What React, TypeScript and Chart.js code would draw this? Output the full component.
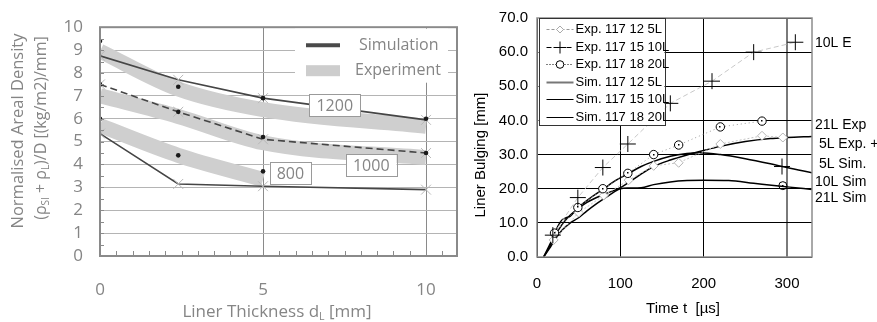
import React, { useEffect, useRef } from "react";
import { Chart, registerables } from "chart.js";
Chart.register(...registerables);

// ---------- Left chart data ----------
const THICKNESS = [0, 2.4, 5, 10];
const THICKNESS_800 = [0, 2.4, 5];
const SIM_1200 = [8.75, 7.7, 6.9, 5.95];
const SIM_1000 = [7.5, 6.3, 5.1, 4.5];
const SIM_800 = [5.35, 3.15, 3.05, 2.9];
const EXP_1200 = [8.95, 7.3, 6.4, 5.67];
const EXP_1000 = [7.0, 6.1, 4.95, 4.3];
const EXP_800 = [5.7, 4.4, 3.35];
const PTS_1200 = [9.4, 7.4, 6.9, 6.0];
const PTS_1000 = [7.5, 6.3, 5.2, 4.5];
const PTS_800 = [6.0, 4.4, 3.7];
const LEFT_X_TICKS = [0, 5, 10];
const LEFT_LABELS = ["1200", "1000", "800"];
const LEFT_LABEL_ANCHORS = [
  [7.2, 6.6],
  [8.32, 3.96],
  [5.84, 3.63],
];

// ---------- Right chart data ----------
const EXP5_T = [20, 50, 80, 110, 140, 170, 220, 270, 295];
const EXP5_V = [5, 13, 18, 22.5, 26.7, 27.6, 33.1, 35.5, 35];
const EXP10_T = [19, 49, 79, 109, 160, 210, 260, 310];
const EXP10_V = [6.4, 17.4, 26.2, 33.1, 45, 51.5, 60, 62.9];
const EXP20_T = [21, 49, 79, 109, 140, 170, 220, 270];
const EXP20_V = [7, 14.5, 20, 24.5, 30, 32.8, 38.1, 39.8];
const SIM5_T = [8, 15, 20, 30, 40, 50, 60, 80, 100, 120, 140, 160, 180, 200, 220, 250, 280, 300, 330];
const SIM5_V = [0, 3, 5.5, 9.5, 12.3, 14.3, 16, 18.3, 20.3, 23.5, 26.5, 28.4, 29.9, 31.2, 32.4, 33.8, 34.7, 35, 35.3];
const SIM10_T = [8, 15, 20, 25, 30, 35, 40, 50, 65, 80, 95, 110, 125, 140, 160, 180, 196, 220, 250, 280, 300, 330];
const SIM10_V = [0, 3.5, 6, 9, 10.8, 11.5, 12, 14.6, 17.5, 20, 22.5, 24.5, 26.5, 28, 29.5, 30.3, 30.5, 30, 28.8, 27.3, 26.2, 24.7];
const SIM20_T = [8, 15, 20, 30, 40, 50, 60, 72, 86, 100, 110, 125, 140, 160, 180, 200, 230, 260, 290, 310, 330];
const SIM20_V = [0, 2.5, 4.5, 7.8, 10, 11.5, 13.5, 15.7, 18, 20, 20.2, 20.3, 21.2, 22, 22.4, 22.5, 22.4, 21.6, 20.8, 20.3, 19.8];
const END_PLUS = [[294, 26.5]];
const END_CIRCLE = [[295, 20.9]];
const RIGHT_X_TICKS = [0, 100, 200, 300];
const RIGHT_NOTES = ["10L E", "21L Exp", " 5L Exp. +", " 5L Sim.", "10L Sim", "21L Sim"];
const RIGHT_NOTE_Y = [62.5, 38.7, 33.1, 27.2, 21.9, 17.2];

const LEFT_FONT = '"Open Sans", "DejaVu Sans", sans-serif';
const RIGHT_FONT = '"Liberation Sans", Arial, sans-serif';
const GRAYTXT = "#858585";

const mk = (xs: number[], ys: number[]) => xs.map((x, i) => ({ x, y: ys[i] }));

function drawRich(ctx: CanvasRenderingContext2D, parts: [string, boolean][], cx: number, cy: number, size: number, family: string) {
  const sub = size * 0.62;
  let total = 0;
  const widths = parts.map(([t, s]) => {
    ctx.font = `${s ? sub : size}px ${family}`;
    const w = ctx.measureText(t).width;
    total += w;
    return w;
  });
  let x = cx - total / 2;
  ctx.textAlign = "left";
  ctx.textBaseline = "middle";
  parts.forEach(([t, s], i) => {
    ctx.font = `${s ? sub : size}px ${family}`;
    ctx.fillText(t, x, cy + (s ? size * 0.3 : 0));
    x += widths[i];
  });
}

const leftDeco = {
  id: "leftDeco",
  afterDraw(chart: any) {
    const ctx: CanvasRenderingContext2D = chart.ctx;
    const xs = chart.scales.x;
    const ys = chart.scales.y;
    const a = chart.chartArea;
    ctx.save();
    // minor ticks
    ctx.strokeStyle = "#8a8a8a";
    ctx.lineWidth = 1;
    ctx.beginPath();
    for (let v = 0.5; v < 11; v += 0.5) {
      const px = Math.round(xs.getPixelForValue(v)) + 0.5;
      ctx.moveTo(px, a.bottom);
      ctx.lineTo(px, a.bottom - 5);
    }
    for (let v = 0.5; v < 10; v += 0.5) {
      const py = Math.round(ys.getPixelForValue(v)) + 0.5;
      ctx.moveTo(a.left, py);
      ctx.lineTo(a.left + 4, py);
    }
    ctx.stroke();
    // frame
    ctx.lineWidth = 2;
    ctx.strokeStyle = "#8a8a8a";
    ctx.strokeRect(a.left, a.top, a.right - a.left, a.bottom - a.top);

    // legend
    const lx = a.right - 162;
    ctx.fillStyle = "#fff";
    ctx.fillRect(lx, a.top + 1.5, 153, 54);
    ctx.strokeStyle = "#4a4a4a";
    ctx.lineWidth = 4;
    ctx.beginPath();
    ctx.moveTo(lx + 11, a.top + 18);
    ctx.lineTo(lx + 45, a.top + 18);
    ctx.stroke();
    ctx.fillStyle = "#cdcdcd";
    ctx.fillRect(lx + 11, a.top + 38, 34, 11);
    ctx.fillStyle = GRAYTXT;
    ctx.font = `16px ${LEFT_FONT}`;
    ctx.textAlign = "left";
    ctx.textBaseline = "middle";
    ctx.fillText("Simulation", lx + 64, a.top + 18);
    ctx.fillText("Experiment", lx + 60, a.top + 43);

    // value labels
    LEFT_LABELS.forEach((t, i) => {
      const cx = xs.getPixelForValue(LEFT_LABEL_ANCHORS[i][0]);
      const cy = ys.getPixelForValue(LEFT_LABEL_ANCHORS[i][1]);
      ctx.font = `16px ${LEFT_FONT}`;
      const w = ctx.measureText(t).width + 14;
      ctx.fillStyle = "#fff";
      ctx.fillRect(cx - w / 2, cy - 11, w, 22);
      ctx.strokeStyle = "#9a9a9a";
      ctx.lineWidth = 1;
      ctx.strokeRect(Math.round(cx - w / 2) + 0.5, Math.round(cy - 11) + 0.5, Math.round(w), 22);
      ctx.fillStyle = GRAYTXT;
      ctx.textAlign = "center";
      ctx.textBaseline = "middle";
      ctx.fillText(t, cx, cy + 1);
    });

    // axis titles
    ctx.fillStyle = GRAYTXT;
    drawRich(ctx, [["Liner Thickness d", false], ["L", true], [" [mm]", false]], 277, 312, 17, LEFT_FONT);
    ctx.translate(18, 131);
    ctx.rotate(-Math.PI / 2);
    drawRich(ctx, [["Normalised Areal Density", false]], 0, 0, 16.5, LEFT_FONT);
    drawRich(
      ctx,
      [["(ρ", false], ["SI", true], [" + ρ", false], ["L", true], [")/D [(kg/m2)/mm]", false]],
      3,
      23,
      16,
      LEFT_FONT
    );
    ctx.restore();
  },
};

const rightDeco = {
  id: "rightDeco",
  afterDatasetsDraw(chart: any) {
    // small centre dot inside the open circles of the 20L experiment
    const ctx: CanvasRenderingContext2D = chart.ctx;
    ctx.save();
    ctx.fillStyle = "#000";
    [3, 1].forEach((di) => {
      const meta = chart.getDatasetMeta(di);
      meta.data.forEach((p: any) => {
        ctx.fillRect(Math.round(p.x) - 1, Math.round(p.y) - 1, 1.5, 1.5);
      });
    });
    ctx.restore();
  },
  afterDraw(chart: any) {
    const ctx: CanvasRenderingContext2D = chart.ctx;
    const ys = chart.scales.y;
    const a = chart.chartArea;
    ctx.save();
    ctx.strokeStyle = "#8c8c8c";
    ctx.lineWidth = 1.5;
    ctx.strokeRect(a.left, a.top, a.right - a.left, a.bottom - a.top);

    // legend
    const lx = a.left + 1.5;
    const ly = a.top;
    const lw = 126;
    const lh = 107;
    ctx.fillStyle = "#fff";
    ctx.fillRect(lx, ly, lw, lh);
    ctx.strokeStyle = "#333";
    ctx.lineWidth = 1;
    ctx.strokeRect(Math.round(lx) + 0.5, Math.round(ly) + 0.5, lw, lh);
    const ds = chart.data.datasets;
    const order = [4, 2, 3, 5, 6, 7];
    order.forEach((di, i) => {
      const d = ds[di];
      const y = Math.round(ly + 11 + i * 17.6) + 0.5;
      const x0 = lx + 8;
      const x1 = lx + 35;
      ctx.strokeStyle = di === 5 ? "#777" : di === 4 ? "#999" : "#000";
      ctx.lineWidth = di === 5 ? 2 : 1;
      ctx.setLineDash(di === 4 ? [3, 2] : di === 2 ? [5, 2, 1, 2] : di === 3 ? [1, 2] : []);
      ctx.beginPath();
      ctx.moveTo(x0, y);
      ctx.lineTo(x1, y);
      ctx.stroke();
      ctx.setLineDash([]);
      const mx = (x0 + x1) / 2;
      if (di === 4) {
        ctx.fillStyle = "#fff";
        ctx.strokeStyle = "#aaa";
        ctx.beginPath();
        ctx.moveTo(mx, y - 3.5);
        ctx.lineTo(mx + 3.5, y);
        ctx.lineTo(mx, y + 3.5);
        ctx.lineTo(mx - 3.5, y);
        ctx.closePath();
        ctx.fill();
        ctx.stroke();
      } else if (di === 2) {
        ctx.strokeStyle = "#000";
        ctx.beginPath();
        ctx.moveTo(mx - 6, y);
        ctx.lineTo(mx + 6, y);
        ctx.moveTo(mx, y - 6);
        ctx.lineTo(mx, y + 6);
        ctx.stroke();
      } else if (di === 3) {
        ctx.fillStyle = "#fff";
        ctx.strokeStyle = "#000";
        ctx.beginPath();
        ctx.arc(mx, y, 3.8, 0, Math.PI * 2);
        ctx.fill();
        ctx.stroke();
      }
      ctx.fillStyle = "#000";
      ctx.font = `13px ${RIGHT_FONT}`;
      ctx.textAlign = "left";
      ctx.textBaseline = "middle";
      ctx.fillText(d.label, lx + 37, y);
    });

    // notes on the right
    ctx.font = `14px ${RIGHT_FONT}`;
    ctx.fillStyle = "#000";
    ctx.textAlign = "left";
    ctx.textBaseline = "middle";
    RIGHT_NOTES.forEach((t, i) => {
      ctx.fillText(t, a.right + 3, ys.getPixelForValue(RIGHT_NOTE_Y[i]));
    });

    // titles
    ctx.font = `15px ${RIGHT_FONT}`;
    ctx.textAlign = "center";
    ctx.fillText("Time t  [µs]", 218, 309);
    ctx.translate(16, 155);
    ctx.rotate(-Math.PI / 2);
    ctx.fillText("Liner Bulging [mm]", 0, 0);
    ctx.restore();
  },
};

export default function App() {
  const leftRef = useRef<HTMLCanvasElement>(null);
  const rightRef = useRef<HTMLCanvasElement>(null);

  useEffect(() => {
    const dots = (xs: number[], ys: number[], label: string) => ({
      label,
      data: mk(xs, ys),
      showLine: false,
      pointStyle: "circle",
      pointRadius: 2.3,
      pointBackgroundColor: "#1a1a1a",
      pointBorderWidth: 0,
    });
    const sim = (ys: number[], label: string, dash: number[]) => ({
      label,
      data: mk(THICKNESS, ys),
      borderColor: "#454545",
      borderWidth: 1.6,
      borderDash: dash,
      tension: 0,
      pointStyle: "crossRot",
      pointRadius: 7,
      pointBorderColor: "#b8b8b8",
      pointBorderWidth: 1,
    });
    const band = (xs: number[], ys: number[], label: string) => ({
      label,
      data: mk(xs, ys),
      borderColor: "#cfcfcf",
      borderWidth: 15,
      borderCapStyle: "butt",
      cubicInterpolationMode: "monotone",
      pointRadius: 0,
    });

    const left = new Chart(leftRef.current!, {
      type: "line",
      data: {
        datasets: [
          dots(THICKNESS, PTS_1200, "Exp 1200"),
          dots(THICKNESS, PTS_1000, "Exp 1000"),
          dots(THICKNESS_800, PTS_800, "Exp 800"),
          sim(SIM_1200, "Simulation 1200", []),
          sim(SIM_1000, "Simulation 1000", [7, 4]),
          sim(SIM_800, "Simulation 800", []),
          band(THICKNESS, EXP_1200, "Experiment 1200"),
          band(THICKNESS, EXP_1000, "Experiment 1000"),
          band(THICKNESS_800, EXP_800, "Experiment 800"),
        ] as any,
      },
      options: {
        animation: false,
        responsive: false,
        devicePixelRatio: 1,
        layout: { padding: { top: 16, right: 7, left: 0, bottom: 0 } },
        plugins: { legend: { display: false }, tooltip: { enabled: false } },
        scales: {
          x: {
            type: "linear",
            min: 0,
            max: 10.95,
            afterBuildTicks: (s: any) => {
              s.ticks = LEFT_X_TICKS.map((value) => ({ value }));
            },
            afterFit: (s: any) => {
              s.height = 66;
            },
            grid: { color: "#8a8a8a", lineWidth: 1, drawTicks: false },
            border: { display: false },
            ticks: { autoSkip: false, padding: 24, color: GRAYTXT, font: { size: 17, family: LEFT_FONT }, maxRotation: 0 },
          },
          y: {
            min: 0,
            max: 10,
            afterFit: (s: any) => {
              s.width = 100;
            },
            grid: { color: "#b4b4b4", lineWidth: 1, drawTicks: false },
            border: { display: false },
            ticks: { autoSkip: false, stepSize: 1, padding: 17, color: GRAYTXT, font: { size: 17, family: LEFT_FONT } },
          },
        },
      } as any,
      plugins: [leftDeco],
    });

    const right = new Chart(rightRef.current!, {
      type: "line",
      data: {
        datasets: [
          {
            label: "end +",
            data: END_PLUS.map(([x, y]) => ({ x, y })),
            showLine: false,
            pointStyle: "cross",
            pointRadius: 8,
            pointBorderColor: "#000",
            pointBorderWidth: 1,
          },
          {
            label: "end o",
            data: END_CIRCLE.map(([x, y]) => ({ x, y })),
            showLine: false,
            pointStyle: "circle",
            pointRadius: 4,
            pointBackgroundColor: "rgba(255,255,255,0)",
            pointBorderColor: "#000",
            pointBorderWidth: 1,
          },
          {
            label: "Exp. 117 15 10L",
            data: mk(EXP10_T, EXP10_V),
            borderColor: "#c8c8c8",
            borderWidth: 1,
            borderDash: [5, 3],
            tension: 0,
            pointStyle: "cross",
            pointRadius: 8,
            pointBorderColor: "#000",
            pointBorderWidth: 1,
          },
          {
            label: "Exp. 117 18 20L",
            data: mk(EXP20_T, EXP20_V),
            borderColor: "#9a9a9a",
            borderWidth: 1,
            borderDash: [1, 3],
            tension: 0,
            pointStyle: "circle",
            pointRadius: 4.2,
            pointBackgroundColor: "#fff",
            pointBorderColor: "#000",
            pointBorderWidth: 1,
          },
          {
            label: "Exp. 117 12 5L",
            data: mk(EXP5_T, EXP5_V),
            borderColor: "#c4c4c4",
            borderWidth: 1,
            borderDash: [2, 2],
            tension: 0,
            pointStyle: "rectRot",
            pointRadius: 4.5,
            pointBackgroundColor: "#fff",
            pointBorderColor: "#b4b4b4",
            pointBorderWidth: 1,
          },
          {
            label: "Sim. 117 12 5L",
            data: mk(SIM5_T, SIM5_V),
            borderColor: "#000",
            borderWidth: 1.5,
            cubicInterpolationMode: "monotone",
            pointRadius: 0,
          },
          {
            label: "Sim. 117 15 10L",
            data: mk(SIM10_T, SIM10_V),
            borderColor: "#000",
            borderWidth: 1.5,
            cubicInterpolationMode: "monotone",
            pointRadius: 0,
          },
          {
            label: "Sim. 117 18 20L",
            data: mk(SIM20_T, SIM20_V),
            borderColor: "#000",
            borderWidth: 1.5,
            cubicInterpolationMode: "monotone",
            pointRadius: 0,
          },
        ] as any,
      },
      options: {
        animation: false,
        responsive: false,
        devicePixelRatio: 1,
        layout: { padding: { top: 16, right: 65, left: 0, bottom: 0 } },
        plugins: { legend: { display: false }, tooltip: { enabled: false } },
        scales: {
          x: {
            type: "linear",
            min: 0,
            max: 330,
            afterBuildTicks: (s: any) => {
              s.ticks = RIGHT_X_TICKS.map((value) => ({ value }));
            },
            afterFit: (s: any) => {
              s.height = 65;
            },
            grid: {
              color: (c: any) => (c.tick && c.tick.value === 300 ? "#7a7a7a" : "#000"),
              lineWidth: (c: any) => (c.tick && c.tick.value === 300 ? 2 : 1),
              drawTicks: false,
            },
            border: { display: false },
            ticks: { autoSkip: false, padding: 18, color: "#000", font: { size: 15, family: RIGHT_FONT }, maxRotation: 0 },
          },
          y: {
            min: 0,
            max: 70,
            afterFit: (s: any) => {
              s.width = 72;
            },
            grid: { color: "#000", lineWidth: 1, drawTicks: false },
            border: { display: false },
            ticks: {
              autoSkip: false,
              stepSize: 10,
              padding: 9,
              color: "#000",
              font: { size: 15, family: RIGHT_FONT },
              callback: (v: any) => Number(v).toFixed(1),
            },
          },
        },
      } as any,
      plugins: [rightDeco],
    });

    return () => {
      left.destroy();
      right.destroy();
    };
  }, []);

  return (
    <div style={{ position: "absolute", left: 0, top: 0, width: 877, height: 322, background: "#fff" }}>
      <canvas ref={leftRef} width={465} height={322} style={{ position: "absolute", left: 0, top: 0 }} />
      <canvas ref={rightRef} width={412} height={322} style={{ position: "absolute", left: 465, top: 0 }} />
    </div>
  );
}
